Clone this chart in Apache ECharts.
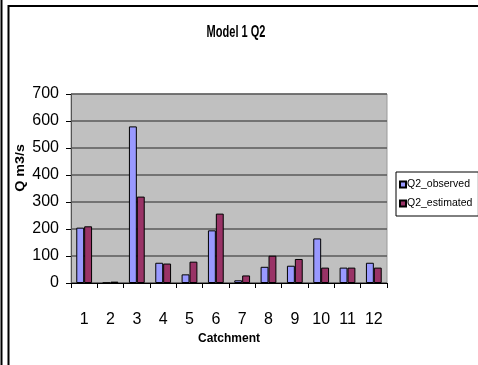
<!DOCTYPE html>
<html>
<head>
<meta charset="utf-8">
<script src="https://cdn.jsdelivr.net/npm/echarts@6/dist/echarts.min.js"></script>
<style>
  html, body { margin: 0; padding: 0; background: #fff; }
  #chart { width: 478px; height: 365px; }
</style>
</head>
<body>
<div id="chart"></div>
<script>
// Discharge per catchment: observed vs. model estimate
const catchments = ['1', '2', '3', '4', '5', '6', '7', '8', '9', '10', '11', '12'];
const q2Observed = [205, 1, 580, 75, 32, 195, 10, 60, 64, 165, 57, 75];
const q2Estimated = [210, 5, 320, 72, 79, 257, 28, 101, 89, 57, 57, 57];
const yTicks = { min: 0, max: 700, interval: 100 };

const FONT = '"Liberation Sans", Arial, sans-serif';

const chart = echarts.init(document.getElementById('chart'), null, { renderer: 'canvas' });

chart.setOption({
  animation: false,
  backgroundColor: '#ffffff',
  textStyle: { fontFamily: FONT },
  grid: { left: 71, right: 91, top: 94, bottom: 82, show: true, backgroundColor: '#c0c0c0', borderColor: '#9a9a9a', borderWidth: 1 },
  legend: {
    orient: 'vertical',
    left: 396, top: 172,
    padding: [7, 6, 7, 3],
    itemGap: 8,
    itemWidth: 6, itemHeight: 6,
    icon: 'rect',
    borderColor: '#000', borderWidth: 1,
    textStyle: { fontFamily: FONT, fontSize: 10.5, color: '#000', padding: [0, 0, 0, -4] },
    data: ['Q2_observed', 'Q2_estimated']
  },
  xAxis: {
    type: 'category',
    data: catchments,
    name: 'Catchment',
    nameLocation: 'middle',
    nameGap: 50,
    nameTextStyle: { fontFamily: FONT, fontSize: 12, fontWeight: 'bold', color: '#000' },
    axisLine: { lineStyle: { color: '#000', width: 1 } },
    axisTick: { show: true, alignWithLabel: false, length: 5, lineStyle: { color: '#000' } },
    axisLabel: { fontFamily: FONT, fontSize: 16, color: '#000', margin: 29 }
  },
  yAxis: {
    type: 'value',
    min: yTicks.min, max: yTicks.max, interval: yTicks.interval,
    axisLine: { show: true, lineStyle: { color: '#555', width: 1 } },
    axisTick: { show: true, length: 5, lineStyle: { color: '#000' } },
    axisLabel: { fontFamily: FONT, fontSize: 16, color: '#000', margin: 12 },
    splitLine: { lineStyle: { color: '#5a5a5a', width: 1.5 } }
  },
  series: [
    {
      name: 'Q2_observed', type: 'bar', data: q2Observed,
      barGap: '0%', barCategoryGap: '40%',
      itemStyle: { color: '#9999ff', borderColor: '#000', borderWidth: 1 }
    },
    {
      name: 'Q2_estimated', type: 'bar', data: q2Estimated,
      barGap: '0%', barCategoryGap: '40%',
      itemStyle: { color: '#993366', borderColor: '#000', borderWidth: 1 }
    }
  ],
  graphic: [
    // chart title, drawn slightly condensed
    { type: 'text', x: 236, y: 33, scaleX: 0.85, scaleY: 1.2,
      style: { text: 'Model 1 Q2', font: 'bold 13px ' + FONT, fill: '#000', textAlign: 'center', textVerticalAlign: 'middle' } },
    // value-axis title, reading upwards
    { type: 'text', x: 20, y: 168, rotation: Math.PI / 2, scaleX: 1.1,
      style: { text: 'Q m3/s', font: 'bold 13px ' + FONT, fill: '#000', textAlign: 'center', textVerticalAlign: 'middle' } },
    // page frame
    { type: 'line', shape: { x1: 1.5, y1: 0, x2: 1.5, y2: 365 }, style: { stroke: '#000', lineWidth: 2 } },
    { type: 'line', shape: { x1: 8.5, y1: 5, x2: 8.5, y2: 365 }, style: { stroke: '#000', lineWidth: 2 } },
    { type: 'line', shape: { x1: 8, y1: 6, x2: 478, y2: 6 }, style: { stroke: '#000', lineWidth: 2 } }
  ]
});
</script>
</body>
</html>
